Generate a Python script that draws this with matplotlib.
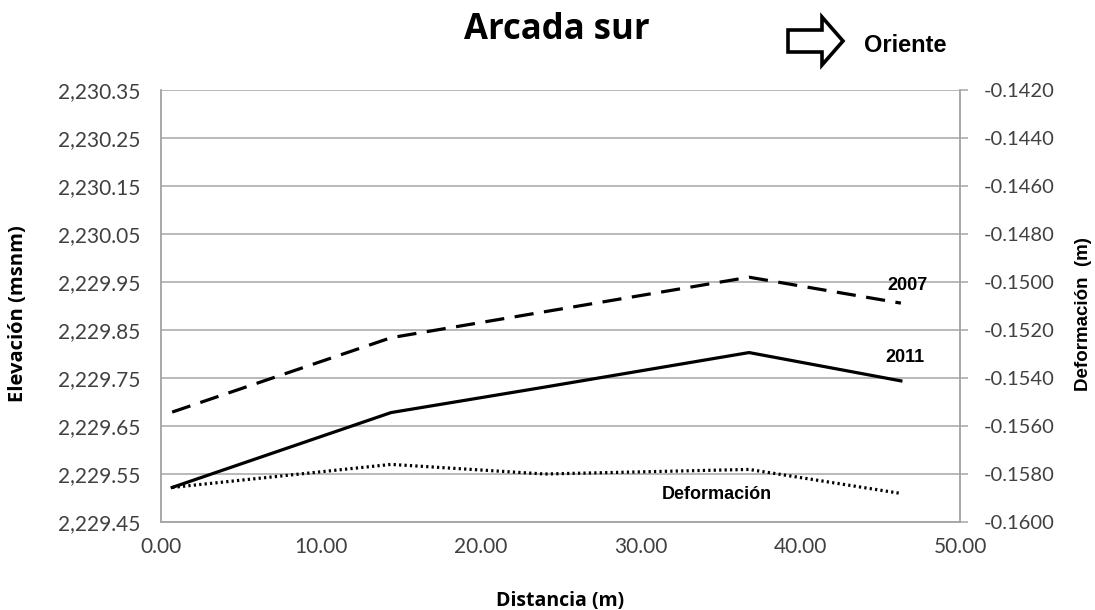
import matplotlib.pyplot as plt
from matplotlib.patches import Polygon
from matplotlib.ticker import FixedLocator, FuncFormatter, MultipleLocator

# datos
distancia = [0.7, 14.4, 24.0, 36.8, 46.3]
elev_2007 = [2229.679, 2229.834, 2229.888, 2229.960, 2229.906]
elev_2011 = [2229.522, 2229.678, 2229.731, 2229.803, 2229.744]
deformacion = [-0.15856, -0.15760, -0.15800, -0.15781, -0.15881]

elev_ticks = [2229.45, 2229.55, 2229.65, 2229.75, 2229.85, 2229.95,
              2230.05, 2230.15, 2230.25, 2230.35]

grid_col = '#a6a6a6'
txt_col = '#404040'
tick_font = 'Lato'

fig = plt.figure(figsize=(10.95, 6.1), dpi=100)
ax = fig.add_axes([161 / 1095, 1 - 522 / 610, 799 / 1095, 432 / 610])
ax2 = ax.twinx()

ax.plot(distancia, elev_2007, color='black', lw=2.3, linestyle=(0, (6, 3.3)))
ax.plot(distancia, elev_2011, color='black', lw=2.3)
ax2.plot(distancia, deformacion, color='black', lw=2.3, linestyle=(0, (0.7, 1.0)))

ax.set_xlim(0, 50)
ax.set_ylim(2229.45, 2230.35)
ax2.set_ylim(-0.16, -0.142)
ax.xaxis.set_major_locator(MultipleLocator(10))
ax.yaxis.set_major_locator(FixedLocator(elev_ticks))
ax2.yaxis.set_major_locator(MultipleLocator(0.002))
ax.xaxis.set_major_formatter(FuncFormatter(lambda v, p: '%.2f' % v))
ax.yaxis.set_major_formatter(FuncFormatter(lambda v, p: '{:,.2f}'.format(v)))
ax2.yaxis.set_major_formatter(FuncFormatter(lambda v, p: '%.4f' % v))

ax.yaxis.grid(True, color=grid_col, lw=1.1)
ax.set_axisbelow(True)
for a in (ax, ax2):
    a.spines['top'].set_visible(False)
    for s in ('left', 'right', 'bottom'):
        a.spines[s].set_color(grid_col)
        a.spines[s].set_linewidth(1.1)
ax.tick_params(axis='y', length=0, pad=15, labelsize=15, labelcolor=txt_col)
ax.tick_params(axis='x', length=0, pad=11, labelsize=15, labelcolor=txt_col)
ax2.tick_params(axis='y', length=6, width=1.1, color=grid_col, pad=11,
                labelsize=14.5, labelcolor=txt_col)
for lab in ax.get_xticklabels() + ax.get_yticklabels() + ax2.get_yticklabels():
    lab.set_fontfamily(tick_font)

ax.set_xlabel('Distancia (m)', fontsize=14, fontweight='bold', family='Open Sans', labelpad=24)
fig.text(18 / 1095, 1 - 314 / 610, 'Elevación (msnm)', rotation=90, fontsize=14.5,
         fontweight='bold', family='Open Sans', ha='center', va='center')
fig.text(1083 / 1095, 1 - 314 / 610, 'Deformación  (m)', rotation=90, fontsize=13.5,
         fontweight='bold', family='Liberation Sans', ha='center', va='center')

# etiquetas de las series
ax.text(46.7, 2229.943, '2007', fontsize=13, fontweight='bold', family='Liberation Sans',
        ha='center', va='center')
ax.text(46.56, 2229.793, '2011', fontsize=13, fontweight='bold', family='Liberation Sans',
        ha='center', va='center')
ax.text(34.8, 2229.508, 'Deformación', fontsize=13, fontweight='bold', family='Liberation Sans',
        ha='center', va='center')

fig.text(557 / 1095, 1 - 30 / 610, 'Arcada sur', fontsize=25, fontweight='bold',
         family='Open Sans', ha='center', va='center')

# flecha hacia el oriente
W, H = 1095.0, 610.0
pts = [(788, 30), (822, 30), (822, 17), (843, 41), (822, 65), (822, 52), (788, 52)]
arrow = Polygon([(x / W, 1 - y / H) for x, y in pts], closed=True, fill=False,
                edgecolor='black', lw=2.6, joinstyle='miter', transform=fig.transFigure)
fig.add_artist(arrow)
fig.text(864 / 1095, 1 - 45 / 610, 'Oriente', fontsize=17, fontweight='bold',
         family='Liberation Sans', ha='left', va='center')

fig.savefig('out.png', dpi=100)
